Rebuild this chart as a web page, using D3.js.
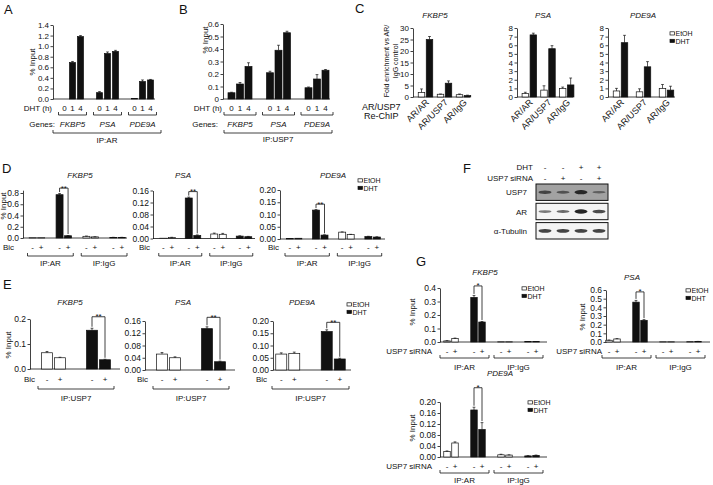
<!DOCTYPE html>
<html><head><meta charset="utf-8">
<script src="https://cdn.jsdelivr.net/npm/d3@7"></script>
<style>body{margin:0;background:#fff}svg{display:block}</style>
</head><body><svg id="c" width="713" height="485"></svg>
<script>
// ---------------- DATA ----------------
const genes = ["FKBP5","PSA","PDE9A"];
const hours = ["0","1","4"];
// Panel A (IP:AR, % input)
const aFKBP5 = [0.00, 0.69, 1.18];
const aPSA   = [0.12, 0.86, 0.90];
const aPDE9A = [0.01, 0.33, 0.36];
const aErrFKBP5 = [0.00, 0.02, 0.02];
const aErrPSA   = [0.02, 0.03, 0.02];
const aErrPDE9A = [0.00, 0.03, 0.01];
const aTicks = [0,0.2,0.4,0.6,0.8,1.0,1.2,1.4];
// Panel B (IP:USP7)
const bFKBP5 = [0.05, 0.12, 0.26];
const bPSA   = [0.21, 0.39, 0.53];
const bPDE9A = [0.09, 0.16, 0.23];
const bErrFKBP5 = [0.004, 0.012, 0.03];
const bErrPSA   = [0.012, 0.04, 0.012];
const bErrPDE9A = [0.006, 0.035, 0.006];
const bTicks = [0,0.1,0.2,0.3,0.4,0.5,0.6];
// Panel C (Re-ChIP) [EtOH, DHT]
const reChip = ["AR/AR","AR/USP7","AR/IgG"];
const treat = ["EtOH","DHT"];
const cFKBP5 = [[2.0,25.0],[1.2,6.0],[1.0,0.6]];
const cErrFKBP5 = [[1.5,1.3],[0.1,1.0],[0.3,0.2]];
const cPSA = [[0.4,7.2],[0.8,5.6],[1.0,1.4]];
const cErrPSA = [[0.15,0.2],[0.5,0.35],[0.15,0.8]];
const cPDE9A = [[0.7,6.3],[0.6,3.5],[1.0,0.8]];
const cErrPDE9A = [[0.3,0.85],[0.35,0.6],[0.45,0.45]];
const cTicksFKBP5 = [0,5,10,15,20,25,30];
const cTicks8 = [0,1,2,3,4,5,6,7,8];
// Panel D (Bic, IP:AR / IP:IgG)
const ipGroups = ["AR-EtOH","AR-DHT","IgG-EtOH","IgG-DHT"];
const bic = ["-","+"];
const dFKBP5 = [[0.005,0.005],[0.77,0.04],[0.03,0.02],[0.01,0.01]];
const dErrFKBP5 = [[0,0],[0.02,0.005],[0.005,0.002],[0.002,0.002]];
const dPSA = [[0.001,0.003],[0.135,0.01],[0.015,0.014],[0.008,0.006]];
const dErrPSA = [[0,0.001],[0.003,0.002],[0.003,0.003],[0.001,0.001]];
const dPDE9A = [[0.002,0.003],[0.118,0.016],[0.028,0.018],[0.01,0.008]];
const dErrPDE9A = [[0,0],[0.002,0.001],[0.001,0.001],[0.001,0.001]];
const dTicksFKBP5 = [0,0.2,0.4,0.6,0.8];
const dTicksPSA = [0,0.04,0.08,0.12,0.16];
const dTicksPDE9A = [0,0.05,0.10,0.15,0.20];
// Panel E (IP:USP7, Bic)
const eGroups = ["EtOH","DHT"];
const eFKBP5 = [[0.065,0.045],[0.155,0.037]];
const eErrFKBP5 = [[0.005,0.002],[0.008,0.002]];
const ePSA = [[0.052,0.040],[0.135,0.027]];
const eErrPSA = [[0.005,0.003],[0.006,0.002]];
const ePDE9A = [[0.065,0.068],[0.157,0.045]];
const eErrPDE9A = [[0.005,0.005],[0.007,0.003]];
const eTicksFKBP5 = [0,0.1,0.2];
const eTicksPSA = [0,0.04,0.08,0.12,0.16];
const eTicksPDE9A = [0,0.05,0.10,0.15,0.20];
// Panel F (western blot)
const fDHT = ["-","-","+","+"];
const fSiRNA = ["-","+","-","+"];
const blotRows = ["USP7","AR","α-Tubulin"];
const bandUSP7 = [0.65,0.5,0.95,0.35];
const bandAR = [0.45,0.55,1.0,0.75];
const bandTub = [0.8,0.8,0.8,0.8];
// Panel G (USP7 siRNA)
const siRNA = ["-","+"];
const gFKBP5 = [[0.008,0.025],[0.33,0.148],[0.002,0.002],[0.003,0.003]];
const gErrFKBP5 = [[0.002,0.004],[0.015,0.004],[0,0],[0,0]];
const gPSA = [[0.02,0.035],[0.46,0.25],[0.003,0.003],[0.003,0.006]];
const gErrPSA = [[0.003,0.004],[0.02,0.008],[0,0],[0,0.001]];
const gPDE9A = [[0.02,0.051],[0.171,0.10],[0.008,0.007],[0.004,0.006]];
const gErrPDE9A = [[0.002,0.004],[0.01,0.025],[0.002,0.001],[0.001,0.001]];
const gTicksFKBP5 = [0,0.1,0.2,0.3,0.4];
const gTicksPSA = [0,0.1,0.2,0.3,0.4,0.5,0.6];
const gTicksPDE9A = [0,0.04,0.08,0.12,0.16,0.20];

// ---------------- HELPERS ----------------
const FONT = '"Liberation Sans", Arial, Helvetica, sans-serif';
const INK = "#111";
const svg = d3.select("#c");
function T(x,y,s,o={}){
  const t = svg.append("text").attr("x",x).attr("y",y).text(s)
    .attr("font-size",o.size||8).attr("font-family",FONT).attr("fill",INK)
    .attr("text-anchor",o.anchor||"start");
  if(o.italic) t.attr("font-style","italic");
  if(o.rot!=null) t.attr("transform",`rotate(${o.rot},${x},${y})`);
  return t;
}
function P(d,w=0.8){ svg.append("path").attr("d",d).attr("fill","none").attr("stroke",INK).attr("stroke-width",w); }
function under(x1,x2,y,h=3){ P(`M${x1},${y-h}V${y}H${x2}V${y-h}`); }
const f1 = d3.format(".1f"), f2 = d3.format(".2f"), fInt = d3.format("d");
const fB = v => v===0 ? "0" : f1(v);
const WHITE = "#fff", BLACK = "#111";

function panel(o){
  const y = d3.scaleLinear().domain(o.dom).range([o.y0,o.yTop]);
  const xg = d3.scaleBand().domain(o.groups).range(o.gRange);
  const n = o.subs.length, W = o.step*(n-1)+o.bw;
  const xi = d3.scaleBand().domain(o.subs).range([-W/2,W/2]).paddingInner(n>1?1-o.bw/o.step:0);
  const cx = (gi,si)=> xg(o.groups[gi]) + xg.bandwidth()/2 + xi(o.subs[si]) + xi.bandwidth()/2;
  const ga = svg.append("g").attr("transform",`translate(${o.ax},0)`)
    .call(d3.axisLeft(y).tickValues(o.ticks).tickFormat(o.fmt).tickSize(2.5).tickSizeOuter(0).tickPadding(1.5));
  ga.attr("font-family",FONT).attr("font-size",o.tickSize||8);
  ga.selectAll("path,line").attr("stroke",INK).attr("stroke-width",0.8);
  ga.selectAll("text").attr("fill",INK);
  svg.append("line").attr("x1",o.ax).attr("x2",o.axEnd).attr("y1",y(0)).attr("y2",y(0))
    .attr("stroke",INK).attr("stroke-width",0.8);
  const cells = [];
  o.groups.forEach((g,gi)=>o.subs.forEach((s,si)=>cells.push({gi,si,v:o.vals[gi][si],e:o.errs[gi][si]})));
  const gb = svg.append("g");
  gb.selectAll("rect").data(cells).join("rect")
    .attr("x",d=>cx(d.gi,d.si)-xi.bandwidth()/2).attr("width",xi.bandwidth())
    .attr("y",d=>y(d.v)).attr("height",d=>Math.max(0,y(0)-y(d.v)))
    .attr("fill",d=>o.fill(d.gi,d.si)).attr("stroke",INK).attr("stroke-width",0.7);
  gb.selectAll("path").data(cells.filter(d=>d.e>0)).join("path")
    .attr("d",d=>{const x=cx(d.gi,d.si), y1=y(d.v), y2=y(d.v+d.e), c=1.4; return `M${x},${y1}V${y2}M${x-c},${y2}H${x+c}`;})
    .attr("stroke",INK).attr("stroke-width",0.7).attr("fill","none");
  return {y,xg,xi,cx,o,top:(gi,si)=>y(o.vals[gi][si]+o.errs[gi][si])};
}
function sig(p,gi,s1,s2,off,label){
  const x1=p.cx(gi,s1), x2=p.cx(gi,s2);
  const y1=p.top(gi,s1)-1.5, y2=p.top(gi,s2)-1.5;
  const top=Math.min(y1,y2)-off;
  P(`M${x1},${y1}V${top}H${x2}V${y2}`,0.8);
  T((x1+x2)/2, top+2.5, label, {anchor:"middle"});
}
function legend(x,y){
  const LS=7, dy=7.5;
  svg.append("rect").attr("x",x).attr("y",y-4.2).attr("width",4.5).attr("height",3.2).attr("fill",WHITE).attr("stroke",INK).attr("stroke-width",0.7);
  T(x+5.5,y,treat[0],{size:LS});
  svg.append("rect").attr("x",x).attr("y",y+dy-4.2).attr("width",4.5).attr("height",3.2).attr("fill",BLACK).attr("stroke",INK).attr("stroke-width",0.7);
  T(x+5.5,y+dy,treat[1],{size:LS});
}
function yLabel(xc,yc,s,size=8){ T(xc+size*0.35,yc,s,{anchor:"middle",rot:-90,size}); }
function groupSpan(p,g0,g1,inset){ const xg=p.xg; return [xg(p.o.groups[g0])+inset, xg(p.o.groups[g1])+xg.bandwidth()-inset]; }

// ---------------- PANEL LETTERS ----------------
[["A",4,14],["B",179,14],["C",355,13],["D",2,173],["E",3,289],["F",463,173],["G",416,266]]
  .forEach(([s,x,y])=>T(x,y,s,{size:13}));

// ---------------- PANEL A ----------------
{
  const p = panel({ax:53,axEnd:155,y0:99,yTop:25,dom:[0,1.4],ticks:aTicks,fmt:f1,
    groups:genes,gRange:[55,160],subs:hours,step:8,bw:6,
    vals:[aFKBP5,aPSA,aPDE9A],errs:[aErrFKBP5,aErrPSA,aErrPDE9A],fill:()=>BLACK});
  yLabel(32,62,"% Input");
  T(52,111,"DHT (h)",{anchor:"end"});
  T(55,127,"Genes:",{anchor:"end"});
  genes.forEach((g,gi)=>{
    hours.forEach((h,si)=>T(p.cx(gi,si),111,h,{anchor:"middle"}));
    const c=p.xg(g)+p.xg.bandwidth()/2;
    under(c-14,c+14,115);
    T(c,127,g,{anchor:"middle",italic:true});
  });
  under(53,161,133);
  T(107,143,"IP:AR",{anchor:"middle"});
}
// ---------------- PANEL B ----------------
{
  const p = panel({ax:223,axEnd:330,y0:99,yTop:24,dom:[0,0.6],ticks:bTicks,fmt:fB,
    groups:genes,gRange:[220.75,336.25],subs:hours,step:8.5,bw:7,
    vals:[bFKBP5,bPSA,bPDE9A],errs:[bErrFKBP5,bErrPSA,bErrPDE9A],fill:()=>BLACK});
  yLabel(205,40,"% Input");
  T(222,111,"DHT (h)",{anchor:"end"});
  T(218,127,"Genes:",{anchor:"end"});
  genes.forEach((g,gi)=>{
    hours.forEach((h,si)=>T(p.cx(gi,si),111,h,{anchor:"middle"}));
    const c=p.xg(g)+p.xg.bandwidth()/2;
    under(c-16,c+16,115);
    T(c,127,g,{anchor:"middle",italic:true});
  });
  under(224,332,133);
  T(278,142,"IP:USP7",{anchor:"middle"});
}
// ---------------- PANEL C ----------------
{
  const fillC = (gi,si)=> si===0?WHITE:BLACK;
  const specs = [
    {ax:413,axEnd:470,dom:[0,30],ticks:cTicksFKBP5,gRange:[416,473],vals:cFKBP5,errs:cErrFKBP5,title:"FKBP5",tx:435},
    {ax:517,axEnd:573,dom:[0,8],ticks:cTicks8,gRange:[520,576],vals:cPSA,errs:cErrPSA,title:"PSA",tx:543},
    {ax:608,axEnd:675,dom:[0,8],ticks:cTicks8,gRange:[609,678],vals:cPDE9A,errs:cErrPDE9A,title:"PDE9A",tx:643}
  ];
  specs.forEach(s=>{
    const p = panel({ax:s.ax,axEnd:s.axEnd,y0:97,yTop:28,dom:s.dom,ticks:s.ticks,fmt:fInt,
      groups:reChip,gRange:s.gRange,subs:treat,step:8,bw:6.5,vals:s.vals,errs:s.errs,fill:fillC});
    T(s.tx,18,s.title,{anchor:"middle",italic:true});
    reChip.forEach(c=>{ const x=p.xg(c)+p.xg.bandwidth()/2+4; T(x,103,c,{anchor:"end",rot:-45,size:9}); });
  });
  yLabel(387,61,"Fold enrichment vs AR/",7);
  yLabel(396,61,"IgG control",7);
  T(362,110,"AR/USP7",{size:9});
  T(364,119,"Re-ChIP",{size:9});
  legend(670,36);
}
// ---------------- PANEL D ----------------
{
  const fillD = (gi,si)=> (gi%2===0)?WHITE:BLACK;
  const specs = [
    {ax:23,axEnd:127,y0:238,dom:[0,0.85],yTop:238-0.85*56.25,ticks:dTicksFKBP5,fmt:f1,gRange:[23.5,131],vals:dFKBP5,errs:dErrFKBP5,title:"FKBP5",tx:80,bicX:14},
    {ax:153,axEnd:255,y0:238.5,dom:[0,0.16],yTop:190.5,ticks:dTicksPSA,fmt:f2,gRange:[154.75,256.75],vals:dPSA,errs:dErrPSA,title:"PSA",tx:183,bicX:150},
    {ax:280,axEnd:385,y0:239,dom:[0,0.2],yTop:190,ticks:dTicksPDE9A,fmt:f2,gRange:[281,385.7],vals:dPDE9A,errs:dErrPDE9A,title:"PDE9A",tx:333,bicX:279}
  ];
  specs.forEach(s=>{
    const p = panel({ax:s.ax,axEnd:s.axEnd,y0:s.y0,yTop:s.yTop,dom:s.dom,ticks:s.ticks,fmt:s.fmt,tickSize:8.5,
      groups:ipGroups,gRange:s.gRange,subs:bic,step:8.5,bw:7,vals:s.vals,errs:s.errs,fill:fillD});
    T(s.tx,178,s.title,{anchor:"middle",italic:true});
    T(s.bicX,250,"Bic",{anchor:"end"});
    ipGroups.forEach((g,gi)=>bic.forEach((b,si)=>T(p.cx(gi,si),250,b,{anchor:"middle"})));
    const s1=groupSpan(p,0,1,4), s2=groupSpan(p,2,3,4);
    under(s1[0],s1[1],256); under(s2[0],s2[1],256);
    T((s1[0]+s1[1])/2,266,"IP:AR",{anchor:"middle"});
    T((s2[0]+s2[1])/2,266,"IP:IgG",{anchor:"middle"});
    sig(p,1,0,1,4,"**");
  });
  yLabel(3,206,"% Input");
  legend(358,183);
}
// ---------------- PANEL E ----------------
{
  const fillE = (gi,si)=> gi===0?WHITE:BLACK;
  const specs = [
    {ax:30,axEnd:120,y0:369,yTop:319,dom:[0,0.2],ticks:eTicksFKBP5,fmt:f1,gRange:[31,121],vals:eFKBP5,errs:eErrFKBP5,title:"FKBP5",tx:70,bicX:35,off:10},
    {ax:145,axEnd:235,y0:370,yTop:321,dom:[0,0.16],ticks:eTicksPSA,fmt:f2,gRange:[146,236],vals:ePSA,errs:eErrPSA,title:"PSA",tx:183,bicX:148,off:8},
    {ax:273,axEnd:351,y0:370,yTop:321,dom:[0,0.2],ticks:eTicksPDE9A,fmt:f2,gRange:[265,356],vals:ePDE9A,errs:eErrPDE9A,title:"PDE9A",tx:302,bicX:267,off:6}
  ];
  specs.forEach(s=>{
    const p = panel({ax:s.ax,axEnd:s.axEnd,y0:s.y0,yTop:s.yTop,dom:s.dom,ticks:s.ticks,fmt:s.fmt,tickSize:8.5,
      groups:eGroups,gRange:s.gRange,subs:bic,step:13,bw:11,vals:s.vals,errs:s.errs,fill:fillE});
    T(s.tx,305,s.title,{anchor:"middle",italic:true});
    T(s.bicX,382,"Bic",{anchor:"end"});
    eGroups.forEach((g,gi)=>bic.forEach((b,si)=>T(p.cx(gi,si),382,b,{anchor:"middle"})));
    const sp=groupSpan(p,0,1,7);
    under(sp[0],sp[1],389);
    T((sp[0]+sp[1])/2,401,"IP:USP7",{anchor:"middle"});
    sig(p,1,0,1,s.off,"**");
  });
  yLabel(8,345,"% Input");
  legend(347,307);
}
// ---------------- PANEL F ----------------
{
  const lanes = d3.range(fDHT.length);
  const lane = d3.scaleBand().domain(lanes).range([536,608]);
  const rowY = d3.scaleBand().domain(blotRows).range([184,239]).paddingInner(0.15);
  const defs = svg.append("defs");
  defs.append("filter").attr("id","blur").append("feGaussianBlur").attr("stdDeviation",0.7);
  const bands = [bandUSP7,bandAR,bandTub];
  const fills = ["#a2a2a2","#f4f4f4","#f4f4f4"];
  blotRows.forEach((r,ri)=>{
    svg.append("rect").attr("x",536).attr("y",rowY(r)).attr("width",72).attr("height",rowY.bandwidth())
      .attr("fill",fills[ri]).attr("stroke",INK).attr("stroke-width",1);
    const cy=rowY(r)+rowY.bandwidth()/2;
    svg.append("g").selectAll("ellipse").data(bands[ri]).join("ellipse")
      .attr("cx",(d,i)=>lane(i)+lane.bandwidth()/2).attr("cy",cy)
      .attr("rx",6.5).attr("ry",d=>0.7+1.5*d)
      .attr("fill","#1a1a1a").attr("opacity",d=>0.25+0.7*d).attr("filter","url(#blur)");
    T(527,cy+3,r,{anchor:"end"});
  });
  T(533,170,"DHT",{anchor:"end"});
  T(533,181,"USP7 siRNA",{anchor:"end"});
  lanes.forEach(i=>{
    const x=lane(i)+lane.bandwidth()/2;
    T(x,170,fDHT[i],{anchor:"middle"});
    T(x,181,fSiRNA[i],{anchor:"middle"});
  });
}
// ---------------- PANEL G ----------------
{
  const fillG = (gi,si)=> (gi%2===0)?WHITE:BLACK;
  const specs = [
    {ax:440,axEnd:547,y0:342,yTop:288,dom:[0,0.4],ticks:gTicksFKBP5,fmt:f1,gRange:[437.5,545.5],vals:gFKBP5,errs:gErrFKBP5,
      title:"FKBP5",tx:485,ty:275,lab:[412,312],usX:432,sy:354,by:358,iy:370,off:8,lg:[522,291]},
    {ax:606,axEnd:710,y0:342,yTop:290,dom:[0,0.6],ticks:gTicksPSA,fmt:f1,gRange:[599.5,707.5],vals:gPSA,errs:gErrPSA,
      title:"PSA",tx:632,ty:280,lab:[582,317],usX:602,sy:354,by:358,iy:370,off:7,lg:[686,293]},
    {ax:440,axEnd:547,y0:457,yTop:402,dom:[0,0.2],ticks:gTicksPDE9A,fmt:f2,gRange:[437.5,545.5],vals:gPDE9A,errs:gErrPDE9A,
      title:"PDE9A",tx:500,ty:376,lab:[412,428],usX:432,sy:469,by:473,iy:483,off:18,lg:[528,405]}
  ];
  specs.forEach(s=>{
    const p = panel({ax:s.ax,axEnd:s.axEnd,y0:s.y0,yTop:s.yTop,dom:s.dom,ticks:s.ticks,fmt:s.fmt,tickSize:8.5,
      groups:ipGroups,gRange:s.gRange,subs:siRNA,step:8,bw:6.5,vals:s.vals,errs:s.errs,fill:fillG});
    T(s.tx,s.ty,s.title,{anchor:"middle",italic:true});
    yLabel(s.lab[0],s.lab[1],"% Input");
    T(s.usX,s.sy,"USP7 siRNA",{anchor:"end"});
    ipGroups.forEach((g,gi)=>siRNA.forEach((b,si)=>T(p.cx(gi,si),s.sy,b,{anchor:"middle"})));
    const s1=groupSpan(p,0,1,2.5), s2=groupSpan(p,2,3,2.5);
    under(s1[0],s1[1],s.by); under(s2[0],s2[1],s.by);
    T((s1[0]+s1[1])/2,s.iy,"IP:AR",{anchor:"middle"});
    T((s2[0]+s2[1])/2,s.iy,"IP:IgG",{anchor:"middle"});
    sig(p,1,0,1,s.off,"*");
    legend(s.lg[0],s.lg[1]);
  });
}
</script></body></html>
